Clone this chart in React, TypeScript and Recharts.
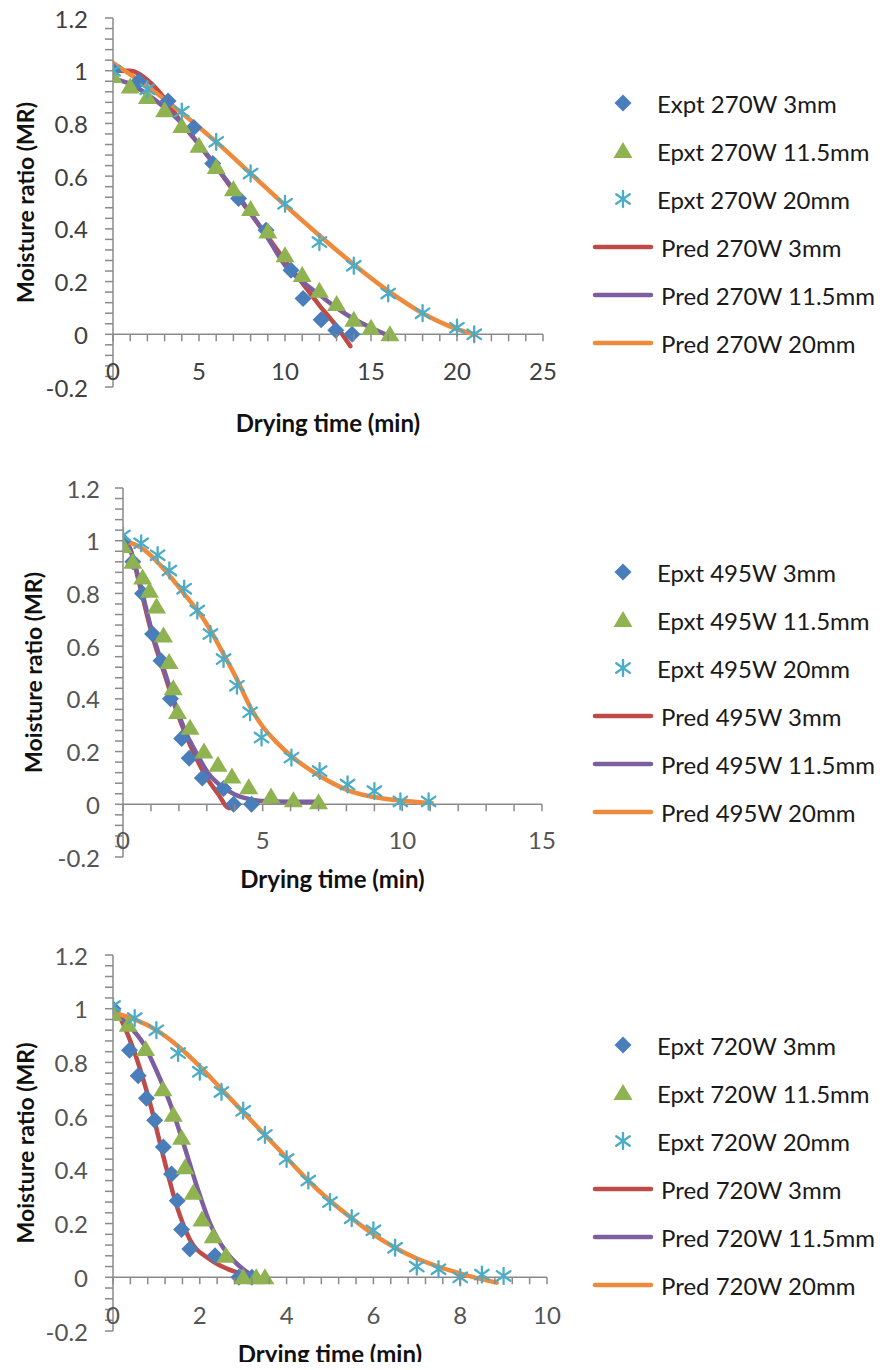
import React from 'react';
import { ComposedChart, Scatter, Line, XAxis, YAxis, ReferenceLine, Legend, Label } from 'recharts';

type Pt = [number, number];

// ---------- tick labels ----------
const yMajorTicks = [-0.2, 0, 0.2, 0.4, 0.6, 0.8, 1, 1.2];
const xMajor270 = [0, 5, 10, 15, 20, 25];
const xMajor495 = [0, 5, 10, 15];
const xMajor720 = [0, 2, 4, 6, 8, 10];

// ---------- 270 W ----------
const names270 = ['Expt 270W 3mm', 'Epxt 270W 11.5mm', 'Epxt 270W 20mm', 'Pred 270W 3mm', 'Pred 270W 11.5mm', 'Pred 270W 20mm'];
const expt270_3: Pt[] = [[0, 1.0], [1.5, 0.96], [3.2, 0.885], [4.7, 0.785], [5.8, 0.648], [7.3, 0.515], [8.9, 0.395], [10.35, 0.243], [11.05, 0.136], [12.1, 0.055], [12.95, 0.015], [13.9, 0.0]];
const expt270_115: Pt[] = [[0, 0.98], [1, 0.94], [2, 0.9], [3, 0.85], [4, 0.79], [5, 0.715], [6, 0.635], [7, 0.55], [8, 0.475], [9, 0.39], [10, 0.3], [11, 0.225], [12, 0.165], [13, 0.115], [14, 0.055], [15, 0.025], [16.1, 0.0]];
const expt270_20: Pt[] = [[0, 1.0], [2, 0.93], [4, 0.845], [6, 0.73], [8, 0.61], [10, 0.495], [12, 0.35], [14, 0.26], [16, 0.155], [18, 0.08], [20, 0.025], [21, 0.0]];
const pred270_3: Pt[] = [[0, 1.0], [1, 1.0], [2, 0.965], [3, 0.895], [4, 0.8], [5, 0.72], [6, 0.635], [7, 0.545], [8, 0.458], [9, 0.37], [10, 0.28], [11, 0.195], [12, 0.11], [13, 0.03], [13.8, -0.045]];
const pred270_115: Pt[] = [[0, 0.97], [1, 0.95], [2, 0.91], [3, 0.86], [4, 0.8], [5, 0.72], [6, 0.635], [7, 0.55], [8, 0.46], [9, 0.365], [10, 0.262], [11, 0.2], [12, 0.15], [13, 0.1], [14, 0.058], [15, 0.025], [16.2, -0.01]];
const pred270_20: Pt[] = [[0, 1.03], [2, 0.94], [4, 0.84], [6, 0.73], [8, 0.61], [10, 0.49], [12, 0.375], [14, 0.265], [16, 0.165], [18, 0.08], [20, 0.02], [21, 0.0]];

// ---------- 495 W ----------
const names495 = ['Epxt 495W 3mm', 'Epxt 495W 11.5mm', 'Epxt 495W 20mm', 'Pred 495W 3mm', 'Pred 495W 11.5mm', 'Pred 495W 20mm'];
const expt495_3: Pt[] = [[0, 1.0], [0.35, 0.92], [0.7, 0.8], [1.06, 0.646], [1.36, 0.545], [1.7, 0.4], [2.1, 0.25], [2.37, 0.175], [2.84, 0.1], [3.6, 0.06], [3.96, 0.0], [4.6, 0.0]];
const expt495_115: Pt[] = [[0, 0.98], [0.35, 0.92], [0.7, 0.86], [0.95, 0.81], [1.2, 0.75], [1.45, 0.64], [1.65, 0.54], [1.8, 0.44], [1.95, 0.35], [2.4, 0.29], [2.9, 0.2], [3.4, 0.15], [3.9, 0.105], [4.5, 0.065], [5.3, 0.03], [6.1, 0.015], [7.0, 0.008]];
const expt495_20: Pt[] = [[0, 1.02], [0.65, 0.99], [1.24, 0.945], [1.66, 0.887], [2.19, 0.818], [2.66, 0.735], [3.13, 0.646], [3.6, 0.551], [4.08, 0.45], [4.55, 0.349], [4.96, 0.253], [6.03, 0.177], [7.04, 0.126], [8.04, 0.075], [9.0, 0.05], [9.93, 0.011], [10.94, 0.011]];
const pred495_3: Pt[] = [[0, 1.0], [0.25, 0.97], [0.6, 0.83], [1.05, 0.64], [1.5, 0.49], [1.9, 0.36], [2.3, 0.25], [2.6, 0.18], [3.0, 0.1], [3.4, 0.04], [3.8, -0.015], [4.1, 0.0]];
const pred495_115: Pt[] = [[0, 1.0], [0.25, 0.97], [0.6, 0.84], [1.05, 0.65], [1.5, 0.5], [1.9, 0.37], [2.3, 0.26], [2.6, 0.2], [3.07, 0.115], [3.5, 0.07], [4.0, 0.037], [4.5, 0.02], [5, 0.012], [6, 0.01], [7, 0.01]];
const pred495_20: Pt[] = [[0, 1.0], [0.7, 0.97], [1.4, 0.9], [2.1, 0.81], [2.9, 0.7], [3.6, 0.57], [4.1, 0.47], [4.55, 0.37], [5, 0.295], [5.5, 0.235], [6, 0.185], [6.93, 0.115], [8.13, 0.05], [9.3, 0.022], [10.5, 0.009], [11.05, 0.005]];

// ---------- 720 W ----------
const names720 = ['Epxt 720W 3mm', 'Epxt 720W 11.5mm', 'Epxt 720W 20mm', 'Pred 720W 3mm', 'Pred 720W 11.5mm', 'Pred 720W 20mm'];
const expt720_3: Pt[] = [[0, 1.0], [0.38, 0.845], [0.58, 0.75], [0.77, 0.667], [0.96, 0.585], [1.16, 0.485], [1.35, 0.385], [1.48, 0.285], [1.58, 0.178], [1.77, 0.105], [2.35, 0.08], [2.9, 0.0], [3.2, 0.0]];
const expt720_115: Pt[] = [[0, 0.98], [0.35, 0.94], [0.75, 0.85], [1.15, 0.7], [1.39, 0.605], [1.58, 0.52], [1.66, 0.41], [1.85, 0.315], [2.05, 0.215], [2.31, 0.153], [2.6, 0.08], [3.0, 0.0], [3.3, 0.0], [3.5, 0.0]];
const expt720_20: Pt[] = [[0, 1.01], [0.5, 0.965], [1, 0.92], [1.5, 0.835], [2, 0.765], [2.5, 0.69], [3, 0.62], [3.5, 0.53], [4, 0.44], [4.5, 0.36], [5, 0.28], [5.5, 0.22], [6, 0.175], [6.5, 0.11], [7, 0.04], [7.5, 0.03], [8, 0.0], [8.5, 0.01], [9, 0.005]];
const pred720_3: Pt[] = [[0.1, 0.99], [0.47, 0.85], [0.85, 0.65], [1.16, 0.45], [1.47, 0.265], [1.77, 0.141], [2.23, 0.067], [2.77, 0.023], [3.3, 0.005]];
const pred720_115: Pt[] = [[0.1, 0.98], [0.31, 0.946], [0.7, 0.87], [1.0, 0.77], [1.31, 0.65], [1.62, 0.5], [1.93, 0.34], [2.23, 0.203], [2.62, 0.092], [3.0, 0.03], [3.39, -0.007]];
const pred720_20: Pt[] = [[0, 0.985], [0.5, 0.96], [1, 0.92], [1.5, 0.86], [2, 0.785], [2.5, 0.7], [3, 0.615], [3.5, 0.53], [4, 0.445], [4.5, 0.36], [5, 0.285], [5.5, 0.22], [6, 0.16], [6.5, 0.11], [7, 0.07], [7.46, 0.042], [8.07, 0.011], [8.84, -0.02]];

// ---------- styles ----------
const FONT = 'Lato, "Open Sans", sans-serif';
const AXIS = '#8a8a8a';
const BLUE = '#4A7EBB';
const GREEN = '#8FB350';
const TEAL = '#4BACC6';
const RED = '#BE4B48';
const PURPLE = '#7D5FA0';
const ORANGE = '#EE8A3C';

type Kind = 'diamond' | 'triangle' | 'star' | 'line';
interface SeriesDef { name: string; kind: Kind; color: string; pts: Pt[] }

const kinds: Kind[] = ['diamond', 'triangle', 'star', 'line', 'line', 'line'];
const colors = [BLUE, GREEN, TEAL, RED, PURPLE, ORANGE];

function buildSeries(names: string[], sets: Pt[][]): SeriesDef[] {
  return names.map((name, i) => ({ name, kind: kinds[i], color: colors[i], pts: sets[i] }));
}

const toXY = (pts: Pt[]) => pts.map(([x, y]) => ({ x, y }));

function subdivide(majors: number[], n: number): number[] {
  const out: number[] = [];
  for (let i = 0; i < majors.length - 1; i++) {
    for (let k = 0; k < n; k++) out.push(Math.round((majors[i] + ((majors[i + 1] - majors[i]) * k) / n) * 1e6) / 1e6);
  }
  out.push(majors[majors.length - 1]);
  return out;
}

function Glyph({ kind, color, cx, cy }: { kind: Kind; color: string; cx: number; cy: number }) {
  if (kind === 'diamond') {
    const r = 8.5;
    return <polygon points={`${cx},${cy - r} ${cx + r},${cy} ${cx},${cy + r} ${cx - r},${cy}`} fill={color} />;
  }
  if (kind === 'triangle') {
    return <polygon points={`${cx},${cy - 9} ${cx + 9.5},${cy + 7} ${cx - 9.5},${cy + 7}`} fill={color} />;
  }
  if (kind === 'star') {
    const r = 8;
    return (
      <g stroke={color} strokeWidth={2.3} strokeLinecap="round">
        <line x1={cx} y1={cy - r} x2={cx} y2={cy + r} />
        <line x1={cx - r * 0.85} y1={cy - r * 0.6} x2={cx + r * 0.85} y2={cy + r * 0.6} />
        <line x1={cx - r * 0.85} y1={cy + r * 0.6} x2={cx + r * 0.85} y2={cy - r * 0.6} />
      </g>
    );
  }
  return <line x1={cx - 28} y1={cy} x2={cx + 28} y2={cy} stroke={color} strokeWidth={4.5} strokeLinecap="round" />;
}

interface ChartProps {
  top: number;
  height: number;
  margin: { top: number; right: number; bottom: number; left: number };
  xMajor: number[];
  xSub: number;
  series: SeriesDef[];
  yTitleX: number;
  xTitleDy: number;
  xLabelDy: number;
  yTickMargin: number;
  legendTop: number;
  textColor: string;
}

const CHART_W = 869;
const Y_AXIS_W = 60;
const X_AXIS_H = 30;

function DryingChart(p: ChartProps) {
  const plotH = p.height - p.margin.top - p.margin.bottom - X_AXIS_H;
  const yMin = yMajorTicks[0];
  const yMax = yMajorTicks[yMajorTicks.length - 1];
  const yTicks = subdivide(yMajorTicks, 5);
  const xTicks = subdivide(p.xMajor, p.xSub);
  const xMax = p.xMajor[p.xMajor.length - 1];
  const isMajor = (v: number, arr: number[]) => arr.some((m) => Math.abs(m - v) < 1e-6);
  const order = p.series.map((s) => s.name);
  const styleOf = (name: string) => p.series.find((s) => s.name === name);

  const xTick = (tp: any) => {
    const { x, y, payload } = tp;
    const y0 = y - (plotH * (0 - yMin)) / (yMax - yMin);
    const v = payload.value;
    return (
      <g>
        <line x1={x} y1={y0} x2={x} y2={y0 + 7} stroke={AXIS} strokeWidth={1.5} />
        {isMajor(v, p.xMajor) && (
          <text x={x} y={y0 + p.xLabelDy} textAnchor="middle" dominantBaseline="central" fontFamily={FONT} fontSize={24} fill={p.textColor}>
            {String(v)}
          </text>
        )}
      </g>
    );
  };

  const yTick = (tp: any) => {
    const { x, y, payload } = tp;
    const v = payload.value;
    if (!isMajor(v, yMajorTicks)) return <g />;
    return (
      <text x={x} y={y} textAnchor="end" dominantBaseline="central" fontFamily={FONT} fontSize={24} fill={p.textColor}>
        {String(Math.round(v * 100) / 100)}
      </text>
    );
  };

  const legendContent = (lp: any) => {
    const items = [...(lp.payload || [])].sort((a: any, b: any) => order.indexOf(a.value) - order.indexOf(b.value));
    return (
      <div>
        {items.map((it: any) => {
          const s = styleOf(it.value);
          if (!s) return null;
          const isLine = s.kind === 'line';
          return (
            <div key={it.value} style={{ display: 'flex', alignItems: 'center', height: 48 }}>
              <svg width={72} height={30} style={{ flex: 'none' }}>
                <Glyph kind={s.kind} color={it.color || s.color} cx={38} cy={15} />
              </svg>
              <span style={{ fontFamily: FONT, fontSize: 24, color: '#1a1a1a', marginLeft: isLine ? 4 : 0, whiteSpace: 'nowrap' }}>{it.value}</span>
            </div>
          );
        })}
      </div>
    );
  };

  return (
    <div style={{ position: 'absolute', left: 0, top: p.top, width: CHART_W, height: p.height }}>
      <ComposedChart width={CHART_W} height={p.height} margin={p.margin}>
        <XAxis
          type="number"
          dataKey="x"
          domain={[0, xMax]}
          ticks={xTicks}
          interval={0}
          allowDataOverflow
          axisLine={false}
          tickLine={false}
          tickSize={0}
          tickMargin={0}
          height={X_AXIS_H}
          tick={xTick}
        >
          <Label
            content={(lp: any) => {
              const vb = lp.viewBox || {};
              return (
                <text x={vb.x + vb.width / 2} y={vb.y + p.xTitleDy} textAnchor="middle" dominantBaseline="central" fontFamily={FONT} fontWeight={700} fontSize={24} fill="#111">
                  Drying time (min)
                </text>
              );
            }}
          />
        </XAxis>
        <YAxis
          type="number"
          dataKey="y"
          domain={[yMin, yMax]}
          ticks={yTicks}
          interval={0}
          allowDataOverflow
          width={Y_AXIS_W}
          axisLine={{ stroke: AXIS, strokeWidth: 1.5 }}
          tickLine={{ stroke: AXIS, strokeWidth: 1.5 }}
          tickSize={8}
          tickMargin={p.yTickMargin}
          tick={yTick}
        >
          <Label
            content={(lp: any) => {
              const vb = lp.viewBox || {};
              const cy = vb.y + vb.height / 2;
              return (
                <text x={p.yTitleX} y={cy} transform={`rotate(-90, ${p.yTitleX}, ${cy})`} textAnchor="middle" dominantBaseline="central" fontFamily={FONT} fontWeight={700} fontSize={23} fill="#111">
                  Moisture ratio (MR)
                </text>
              );
            }}
          />
        </YAxis>
        <ReferenceLine y={0} stroke={AXIS} strokeWidth={1.5} ifOverflow="visible" />
        {p.series
          .filter((s) => s.kind !== 'line')
          .map((s) => (
            <Scatter
              key={s.name}
              name={s.name}
              data={toXY(s.pts)}
              dataKey="y"
              fill={s.color}
              legendType={s.kind === 'diamond' ? 'diamond' : s.kind === 'triangle' ? 'triangle' : 'star'}
              isAnimationActive={false}
              shape={(sp: any) => <Glyph kind={s.kind} color={s.color} cx={sp.cx} cy={sp.cy} />}
            />
          ))}
        {p.series
          .filter((s) => s.kind === 'line')
          .map((s) => (
            <Line
              key={s.name}
              name={s.name}
              data={toXY(s.pts)}
              dataKey="y"
              type="monotone"
              stroke={s.color}
              strokeWidth={4.5}
              strokeLinecap="round"
              dot={false}
              activeDot={false}
              legendType="line"
              isAnimationActive={false}
            />
          ))}
        <Legend
          layout="vertical"
          align="center"
          verticalAlign="middle"
          content={legendContent}
          wrapperStyle={{ position: 'absolute', left: 577, top: p.legendTop, width: 300, height: 300 }}
        />
      </ComposedChart>
    </div>
  );
}

const series270 = buildSeries(names270, [expt270_3, expt270_115, expt270_20, pred270_3, pred270_115, pred270_20]);
const series495 = buildSeries(names495, [expt495_3, expt495_115, expt495_20, pred495_3, pred495_115, pred495_20]);
const series720 = buildSeries(names720, [expt720_3, expt720_115, expt720_20, pred720_3, pred720_115, pred720_20]);

export default function App() {
  return (
    <div style={{ position: 'relative', width: CHART_W, height: 1354, background: '#fff' }}>
      <DryingChart
        top={-8}
        height={448}
        margin={{ top: 18, right: 334, bottom: 31, left: 45 }}
        xMajor={xMajor270}
        xSub={5}
        series={series270}
        yTitleX={17}
        xTitleDy={35}
        xLabelDy={36}
        yTickMargin={17}
        legendTop={79}
        textColor="#404040"
      />
      <DryingChart
        top={447}
        height={460}
        margin={{ top: 33, right: 335, bottom: 28, left: 55 }}
        xMajor={xMajor495}
        xSub={5}
        series={series495}
        yTitleX={25}
        xTitleDy={21}
        xLabelDy={35}
        yTickMargin={15}
        legendTop={93}
        textColor="#555555"
      />
      <DryingChart
        top={907}
        height={463}
        margin={{ top: 40, right: 330, bottom: 17, left: 45 }}
        xMajor={xMajor720}
        xSub={5}
        series={series720}
        yTitleX={17}
        xTitleDy={22}
        xLabelDy={37}
        yTickMargin={17}
        legendTop={106}
        textColor="#555555"
      />
    </div>
  );
}
